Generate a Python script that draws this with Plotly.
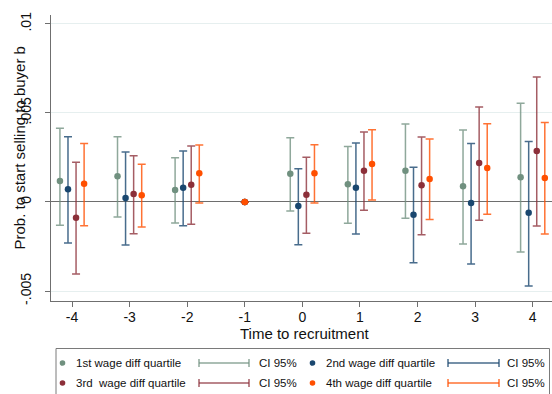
import plotly.graph_objects as go

# ---------------- data ----------------
times = [-4, -3, -2, -1, 0, 1, 2, 3, 4]
tick_labels = ["-4", "-3", "-2", "-1", "0", "1", "2", "3", "4"]
y_tickvals = [-0.005, 0, 0.005, 0.01]
y_ticktext = ["-.005", "0", ".005", ".01"]

names = ["1st wage diff quartile", "2nd wage diff quartile",
         "3rd\u00a0 wage diff quartile", "4th wage diff quartile"]
ci_label = "CI 95%"
x_title = "Time to recruitment"
y_title = "Prob. to start selling to buyer b"

# coefficients and CI bounds (x 1e-3)
q1_coef = [1.18, 1.44, 0.67, 0, 1.59, 0.99, 1.76, 0.88, 1.39]
q1_hi = [4.14, 3.67, 2.49, None, 3.61, 3.11, 4.38, 4.04, 5.54]
q1_lo = [-1.31, -0.84, -1.18, None, -0.51, -1.20, -0.92, -2.36, -2.81]

q2_coef = [0.71, 0.22, 0.80, 0, -0.22, 0.80, -0.71, -0.06, -0.60]
q2_hi = [3.67, 2.81, 2.87, None, 1.87, 3.31, 1.95, 3.28, 3.39]
q2_lo = [-2.30, -2.42, -1.33, None, -2.40, -1.80, -3.41, -3.48, -4.72]

q3_coef = [-0.88, 0.45, 0.97, 0, 0.41, 1.76, 0.94, 2.19, 2.87]
q3_hi = [2.23, 2.60, 3.15, None, 2.51, 3.93, 3.65, 5.34, 7.02]
q3_lo = [-4.04, -1.78, -1.25, None, -1.76, -0.47, -1.84, -1.03, -1.35]

q4_coef = [1.03, 0.38, 1.61, 0, 1.61, 2.13, 1.29, 1.91, 1.35]
q4_hi = [3.28, 2.12, 3.20, None, 3.22, 4.06, 3.54, 4.40, 4.46]
q4_lo = [-1.33, -1.40, -0.06, None, -0.06, 0.11, -0.99, -0.69, -1.80]

# ---------------- styling ----------------
W, H = 552, 394
ML, MR, MT, MB = 51, 0, 15, 93
PW, PH = W - ML - MR, H - MT - MB

point_colors = ["#70907F", "#1A476F", "#8C2F39", "#FF4F00"]
bar_colors = ["rgba(112,144,127,0.78)", "rgba(26,71,111,0.8)",
              "rgba(140,47,57,0.78)", "rgba(255,79,0,0.8)"]
offsets = [-0.21, -0.07, 0.07, 0.21]
scale = 1e-3

series = [(q1_coef, q1_lo, q1_hi), (q2_coef, q2_lo, q2_hi),
          (q3_coef, q3_lo, q3_hi), (q4_coef, q4_lo, q4_hi)]

fig = go.Figure()
for k, (coef, lo, hi) in enumerate(series):
    xs, ys, up, dn = [], [], [], []
    for t, c, l, h in zip(times, coef, lo, hi):
        xs.append(t + (offsets[k] if h is not None else 0))
        ys.append(c * scale)
        up.append((h - c) * scale if h is not None else float("nan"))
        dn.append((c - l) * scale if l is not None else float("nan"))
    fig.add_trace(go.Scatter(
        x=xs, y=ys, mode="markers", name=names[k], showlegend=False,
        marker=dict(color=point_colors[k], size=6.5),
        error_y=dict(type="data", symmetric=False, array=up, arrayminus=dn,
                     color=bar_colors[k], thickness=1.5, width=4),
    ))

axis_col = "#6F6F6F"
FONT = "Liberation Sans, Arial"
fig.update_xaxes(
    range=[-4.365, 4.335], tickvals=times, ticktext=tick_labels,
    showgrid=False, zeroline=False, showline=True, linecolor=axis_col,
    linewidth=1, ticks="outside", ticklen=5, tickcolor=axis_col,
    ticklabelstandoff=-2,
    tickfont=dict(family=FONT, size=14, color="#111"),
)
fig.update_yaxes(
    range=[-0.00556, 0.0105], tickvals=y_tickvals, ticktext=y_ticktext,
    tickangle=-90, showgrid=True, gridcolor="#E6EFEF", gridwidth=1,
    zeroline=True, zerolinecolor="#6E6E6E", zerolinewidth=1,
    showline=True, linecolor=axis_col, linewidth=1,
    ticks="outside", ticklen=5, tickcolor=axis_col, ticklabelstandoff=8,
    tickfont=dict(family=FONT, size=14, color="#111"),
)

# ---------------- titles & manual legend (paper coordinates) ----------------
def px(xp):
    return (xp - ML) / PW

def py(yp):
    return (H - MB - yp) / PH

shapes = []
annotations = []
tfont = dict(family=FONT, size=15, color="#111")
annotations.append(dict(xref="paper", yref="paper", x=px(304), y=py(333.5),
                        text=x_title, showarrow=False, xanchor="center",
                        yanchor="middle", font=tfont))
annotations.append(dict(xref="paper", yref="paper", x=px(18.5), y=py(148),
                        text=y_title, showarrow=False, xanchor="center",
                        yanchor="middle", textangle=-90, font=tfont))

shapes.append(dict(type="rect", xref="paper", yref="paper",
                   x0=px(56), x1=px(549.5), y0=py(400), y1=py(348.5),
                   line=dict(color="#7A7A7A", width=1), fillcolor="white", layer="below"))

rows_y = [363, 383]
col_marker_x = [62.5, 312.5]
col_text_x = [74, 324]
col_line = [(199, 249), (448, 499)]
col_ci_text_x = [257, 505]
lfont = dict(family=FONT, size=11.5, color="#111")
for k in range(4):
    r, c = k // 2, k % 2
    yy = rows_y[r]
    mx = col_marker_x[c]
    shapes.append(dict(type="circle", xref="paper", yref="paper",
                       x0=px(mx - 2.8), x1=px(mx + 2.8), y0=py(yy + 2.8), y1=py(yy - 2.8),
                       fillcolor=point_colors[k], line=dict(width=0)))
    annotations.append(dict(xref="paper", yref="paper", x=px(col_text_x[c]), y=py(yy),
                            text=names[k], showarrow=False, xanchor="left",
                            yanchor="middle", font=lfont))
    x0, x1 = col_line[c]
    shapes.append(dict(type="line", xref="paper", yref="paper",
                       x0=px(x0), x1=px(x1), y0=py(yy), y1=py(yy),
                       line=dict(color=bar_colors[k], width=1.5)))
    for xe in (x0, x1):
        shapes.append(dict(type="line", xref="paper", yref="paper",
                           x0=px(xe), x1=px(xe), y0=py(yy - 4), y1=py(yy + 4),
                           line=dict(color=bar_colors[k], width=1.5)))
    annotations.append(dict(xref="paper", yref="paper", x=px(col_ci_text_x[c]), y=py(yy),
                            text=ci_label, showarrow=False, xanchor="left",
                            yanchor="middle", font=lfont))

fig.update_layout(
    width=W, height=H, margin=dict(l=ML, r=MR, t=MT, b=MB, pad=0),
    paper_bgcolor="white", plot_bgcolor="white",
    shapes=shapes, annotations=annotations, showlegend=False,
)

fig.write_html("out.html", config={"displayModeBar": False},
               post_script="document.body.style.margin='0';document.body.style.overflow='hidden';")
